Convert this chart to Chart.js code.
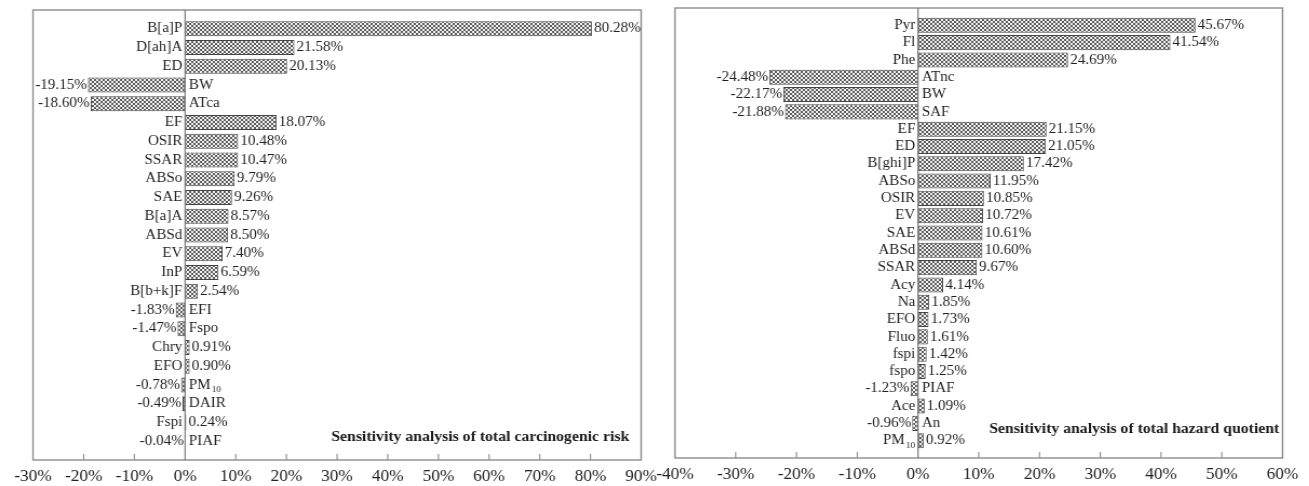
<!DOCTYPE html>
<html>
<head>
<meta charset="utf-8">
<title>Sensitivity analysis</title>
<script src="https://cdn.jsdelivr.net/npm/chart.js@4/dist/chart.umd.min.js"></script>
<style>
  html, body { margin: 0; padding: 0; background: #ffffff; }
  #wrap { position: relative; width: 1309px; height: 486px; overflow: hidden; background: #fff; }
  canvas { position: absolute; top: 0; }
</style>
</head>
<body>
<div id="wrap">
  <canvas id="crChart"></canvas>
  <canvas id="hqChart"></canvas>
</div>
<script>
// Carcinogenic risk: parameters and their contribution to variance (%)
const crNames = ['B[a]P', 'D[ah]A', 'ED', 'BW', 'ATca', 'EF', 'OSIR', 'SSAR', 'ABSo', 'SAE',
  'B[a]A', 'ABSd', 'EV', 'InP', 'B[b+k]F', 'EFI', 'Fspo', 'Chry', 'EFO', 'PM_10', 'DAIR', 'Fspi', 'PIAF'];
const crValues = [80.28, 21.58, 20.13, -19.15, -18.60, 18.07, 10.48, 10.47, 9.79, 9.26,
  8.57, 8.50, 7.40, 6.59, 2.54, -1.83, -1.47, 0.91, 0.90, -0.78, -0.49, 0.24, -0.04];
const crTitle = 'Sensitivity analysis of total carcinogenic risk';
const crTicks = { min: -30, max: 90, step: 10 };

// Hazard quotient: parameters and their contribution to variance (%)
const hqNames = ['Pyr', 'Fl', 'Phe', 'ATnc', 'BW', 'SAF', 'EF', 'ED', 'B[ghi]P', 'ABSo', 'OSIR',
  'EV', 'SAE', 'ABSd', 'SSAR', 'Acy', 'Na', 'EFO', 'Fluo', 'fspi', 'fspo', 'PIAF', 'Ace', 'An', 'PM_10'];
const hqValues = [45.67, 41.54, 24.69, -24.48, -22.17, -21.88, 21.15, 21.05, 17.42, 11.95, 10.85,
  10.72, 10.61, 10.60, 9.67, 4.14, 1.85, 1.73, 1.61, 1.42, 1.25, -1.23, 1.09, -0.96, 0.92];
const hqTitle = 'Sensitivity analysis of total hazard quotient';
const hqTicks = { min: -40, max: 60, step: 10 };

// The figure's lettering is slightly wide: each canvas is drawn a little
// narrower and stretched back out by CSS by this factor.
const STRETCH = 1.08;
const SERIF = '"Liberation Serif", "Times New Roman", serif';
const LABEL_SIZE = 14;
const TICK_SIZE = 16;
const TITLE_SIZE = 14.6;

// Cross-hatched fill used by all bars
function hatchPattern() {
  const c = document.createElement('canvas');
  c.width = 4; c.height = 4;
  const g = c.getContext('2d');
  g.fillStyle = '#f0f0f0';
  g.fillRect(0, 0, 4, 4);
  g.fillStyle = '#5e5e5e';
  [[0,0],[1,1],[2,2],[3,3],[0,3],[1,2],[2,1],[3,0]].forEach(([x, y]) => g.fillRect(x, y, 1, 1));
  return g.createPattern(c, 'repeat');
}

// Draws a label; a "_" marks the start of a subscript (e.g. PM_10)
function labelWidth(ctx, text, size) {
  const parts = text.split('_');
  ctx.font = size + 'px ' + SERIF;
  let w = ctx.measureText(parts[0]).width;
  if (parts[1]) { ctx.font = (size * 0.62) + 'px ' + SERIF; w += ctx.measureText(parts[1]).width + 1; }
  return w;
}
function drawLabel(ctx, text, x, y, align, size) {
  const parts = text.split('_');
  const w = labelWidth(ctx, text, size);
  let left = align === 'right' ? x - w : x;
  ctx.textAlign = 'left';
  ctx.textBaseline = 'middle';
  ctx.font = size + 'px ' + SERIF;
  ctx.fillText(parts[0], left, y);
  if (parts[1]) {
    left += ctx.measureText(parts[0]).width + 1;
    ctx.font = (size * 0.62) + 'px ' + SERIF;
    ctx.fillText(parts[1], left, y + 5);
  }
}

// Frame, zero line, inward tick marks, bar labels and the panel caption
const sensitivityDecor = {
  id: 'sensitivityDecor',
  afterDatasetsDraw(chart, args, opts) {
    const ctx = chart.ctx;
    const area = chart.chartArea;
    const xs = chart.scales.x;
    const zero = xs.getPixelForValue(0);
    ctx.save();

    // inward tick marks on the bottom axis
    ctx.strokeStyle = '#8c8c8c';
    ctx.lineWidth = 1.1;
    xs.ticks.forEach(t => {
      if (t.value === xs.min || t.value === xs.max || t.value === 0) return;
      const px = xs.getPixelForValue(t.value);
      ctx.beginPath();
      ctx.moveTo(px, area.bottom);
      ctx.lineTo(px, area.bottom - 6);
      ctx.stroke();
    });

    // frame
    ctx.strokeStyle = '#8c8c8c';
    ctx.lineWidth = 1.4;
    ctx.strokeRect(area.left, area.top, area.right - area.left, area.bottom - area.top);

    // zero line
    ctx.strokeStyle = '#6e6e6e';
    ctx.lineWidth = 1.1;
    ctx.beginPath();
    ctx.moveTo(zero, area.top);
    ctx.lineTo(zero, area.bottom);
    ctx.stroke();

    // category and value labels next to each bar
    const meta = chart.getDatasetMeta(0);
    const names = opts.names, values = opts.values;
    ctx.fillStyle = '#1f1f1f';
    names.forEach((name, i) => {
      const bar = meta.data[i + 1];
      const v = values[i];
      const txt = v.toFixed(2) + '%';
      if (v >= 0) {
        drawLabel(ctx, name, zero - 2.5, bar.y, 'right', opts.fontSize);
        drawLabel(ctx, txt, bar.x + 2, bar.y, 'left', opts.fontSize);
      } else {
        drawLabel(ctx, name, zero + 3.5, bar.y, 'left', opts.fontSize);
        drawLabel(ctx, txt, bar.x - 1, bar.y, 'right', opts.fontSize);
      }
    });

    // caption inside the plot area
    ctx.font = 'bold ' + opts.titleSize + 'px ' + SERIF;
    ctx.textAlign = 'right';
    ctx.textBaseline = 'alphabetic';
    ctx.fillStyle = '#1a1a1a';
    ctx.fillText(opts.title, area.right - opts.titleInset, area.bottom - opts.titleRaise);
    ctx.restore();
  }
};

function makeChart(id, cfg) {
  const canvas = document.getElementById(id);
  const innerW = Math.round(cfg.displayWidth / STRETCH);
  canvas.width = innerW;
  canvas.height = 486;
  canvas.style.width = cfg.displayWidth + 'px';
  canvas.style.height = '486px';
  canvas.style.left = cfg.displayLeft + 'px';

  const labels = [''].concat(cfg.names, ['']);
  const data = [null].concat(cfg.values, [null]);
  const areaLeft = (cfg.areaLeft - cfg.displayLeft) / STRETCH;
  const areaRight = innerW - (cfg.areaRight - cfg.displayLeft) / STRETCH;

  return new Chart(canvas, {
    type: 'bar',
    data: {
      labels: labels,
      datasets: [{
        data: data,
        backgroundColor: hatchPattern(),
        borderColor: '#454545',
        borderWidth: 1,
        borderSkipped: false,
        categoryPercentage: 1,
        barPercentage: cfg.barPct
      }]
    },
    options: {
      indexAxis: 'y',
      responsive: false,
      animation: false,
      devicePixelRatio: 1,
      layout: { padding: { left: areaLeft, right: areaRight, top: cfg.areaTop, bottom: 0 } },
      plugins: {
        legend: { display: false },
        tooltip: { enabled: false },
        sensitivityDecor: {
          names: cfg.names, values: cfg.values, title: cfg.title,
          fontSize: LABEL_SIZE, titleSize: TITLE_SIZE, titleInset: cfg.titleInset, titleRaise: cfg.titleRaise
        }
      },
      scales: {
        y: {
          type: 'category',
          offset: false,
          display: false
        },
        x: {
          type: 'linear',
          min: cfg.ticks.min,
          max: cfg.ticks.max,
          grid: { display: false, drawTicks: false },
          border: { display: false },
          ticks: {
            stepSize: cfg.ticks.step,
            autoSkip: false,
            maxRotation: 0,
            padding: 7,
            color: '#222222',
            font: { family: SERIF, size: TICK_SIZE },
            callback: v => v + '%'
          },
          afterFit(scale) {
            scale.height = cfg.axisHeight;
            scale.paddingLeft = 0;
            scale.paddingRight = 0;
          }
        }
      }
    },
    plugins: [sensitivityDecor]
  });
}

makeChart('crChart', {
  names: crNames, values: crValues, title: crTitle, ticks: crTicks,
  displayLeft: 0, displayWidth: 660, areaLeft: 33, areaRight: 641,
  areaTop: 10, axisHeight: 26, barPct: 0.8, titleInset: 11, titleRaise: 19
});
makeChart('hqChart', {
  names: hqNames, values: hqValues, title: hqTitle, ticks: hqTicks,
  displayLeft: 655, displayWidth: 654, areaLeft: 675, areaRight: 1283,
  areaTop: 8, axisHeight: 28, barPct: 0.87, titleInset: 3, titleRaise: 25
});
</script>
</body>
</html>
